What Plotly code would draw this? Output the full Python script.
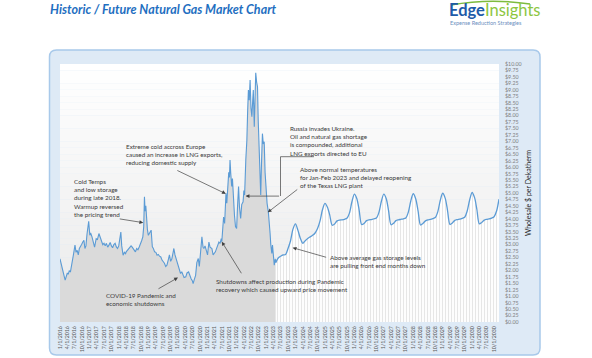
import plotly.graph_objects as go

# ---------------- data ----------------
hist_dates = [
    "2016-01-01","2016-01-12","2016-01-25","2016-02-08","2016-02-20","2016-03-05","2016-03-18","2016-04-01","2016-04-12","2016-04-25",
    "2016-05-10","2016-05-22","2016-06-05","2016-06-18","2016-07-05","2016-07-18","2016-08-01","2016-08-15","2016-08-28","2016-09-10",
    "2016-09-25","2016-10-10","2016-10-24","2016-11-05","2016-11-18","2016-12-01","2016-12-12","2016-12-22","2017-01-05","2017-01-15",
    "2017-02-01","2017-02-20","2017-03-05","2017-03-25","2017-04-10","2017-04-28","2017-05-15","2017-05-30","2017-06-15","2017-06-30",
    "2017-07-15","2017-07-30","2017-08-15","2017-08-30","2017-09-15","2017-09-30","2017-10-15","2017-10-30","2017-11-15","2017-11-30",
    "2017-12-15","2017-12-30","2018-01-12","2018-01-25","2018-02-05","2018-02-22","2018-03-10","2018-03-25","2018-04-01","2018-04-18",
    "2018-05-01","2018-05-15","2018-06-01","2018-06-15","2018-06-28","2018-07-12","2018-07-25","2018-08-10","2018-08-25","2018-09-10",
    "2018-09-25","2018-10-10","2018-10-25","2018-11-05","2018-11-14","2018-11-22","2018-12-01","2018-12-10","2018-12-20","2019-01-01",
    "2019-01-15","2019-02-05","2019-02-20","2019-03-05","2019-03-20","2019-04-05","2019-04-20","2019-05-05","2019-05-20","2019-06-05",
    "2019-06-20","2019-07-05","2019-07-20","2019-08-05","2019-08-20","2019-09-05","2019-09-20","2019-10-05","2019-10-20","2019-11-05",
    "2019-11-14","2019-11-28","2019-12-10","2019-12-22","2020-01-05","2020-01-20","2020-02-05","2020-02-20","2020-03-05","2020-03-20",
    "2020-04-10","2020-04-25","2020-05-15","2020-05-30","2020-06-15","2020-06-30","2020-07-10","2020-07-25","2020-08-10","2020-08-25",
    "2020-09-12","2020-09-25","2020-10-10","2020-10-27","2020-11-10","2020-11-20","2020-12-05","2020-12-20","2021-01-05","2021-01-22",
    "2021-02-05","2021-02-28","2021-03-15","2021-04-12","2021-04-28","2021-05-15","2021-05-26","2021-06-10","2021-06-24","2021-07-01",
    "2021-07-12","2021-07-23","2021-08-05","2021-08-22","2021-09-01","2021-09-15","2021-09-25","2021-10-04","2021-10-11","2021-10-20",
    "2021-11-01","2021-11-10","2021-11-22","2021-12-05","2021-12-18","2022-01-01","2022-01-12","2022-01-25","2022-02-05","2022-02-20",
    "2022-03-05","2022-03-22","2022-04-01","2022-04-10","2022-04-25","2022-05-08","2022-05-18","2022-05-27","2022-06-07","2022-06-17",
    "2022-06-28","2022-07-09","2022-07-18","2022-07-27","2022-08-08","2022-08-17","2022-08-26","2022-09-06","2022-09-17","2022-09-26",
    "2022-10-05","2022-10-15","2022-10-27","2022-11-06","2022-11-17","2022-11-28","2022-12-09","2022-12-20","2023-01-01","2023-01-14",
    "2023-01-29","2023-02-10","2023-02-20","2023-03-01","2023-03-14","2023-03-22","2023-04-05","2023-04-13","2023-04-25","2023-05-01",
]
hist_values = [
    2.45, 2.28, 2.15, 1.95, 1.80, 1.62, 1.75, 1.90, 1.85, 1.98,
    1.95, 2.13, 2.40, 2.65, 2.98, 2.70, 2.78, 2.60, 2.85, 2.91,
    3.00, 3.10, 3.17, 2.85, 2.95, 3.40, 3.60, 3.90, 3.36, 3.45,
    3.30, 2.98, 2.90, 3.23, 3.20, 3.43, 3.25, 3.10, 3.00, 3.05,
    2.95, 3.05, 2.90, 2.98, 3.08, 2.95, 2.88, 3.00, 3.05, 2.91,
    2.85, 2.95, 3.20, 3.49, 2.95, 2.59, 2.70, 2.65, 2.72, 2.78,
    2.82, 2.91, 2.95, 2.90, 2.85, 2.78, 2.72, 2.85, 2.80, 2.91,
    3.00, 3.15, 3.30, 3.70, 4.85, 4.30, 4.50, 3.88, 3.60, 3.36,
    3.45, 3.56, 2.91, 2.85, 2.72, 2.70, 2.59, 2.62, 2.55, 2.52,
    2.40, 2.33, 2.28, 2.15, 2.20, 2.40, 2.60, 2.35, 2.45, 2.70,
    2.85, 2.60, 2.46, 2.30, 2.20, 2.05, 1.88, 1.95, 1.80, 1.72,
    1.75, 1.90, 1.94, 1.78, 1.68, 1.60, 1.49, 1.65, 1.81, 2.30,
    2.46, 2.15, 2.75, 3.30, 2.90, 2.85, 2.95, 2.78, 2.60, 3.10,
    2.90, 2.85, 2.60, 2.72, 2.85, 3.00, 3.10, 3.05, 3.23, 3.11,
    3.55, 4.07, 3.82, 4.99, 4.60, 5.30, 5.80, 5.60, 6.28, 5.76,
    5.25, 5.56, 4.72, 4.14, 3.70, 3.62, 4.47, 5.25, 4.47, 4.01,
    4.55, 4.66, 5.10, 4.92, 6.30, 7.05, 8.20, 8.99, 8.60, 9.38,
    8.30, 7.96, 8.50, 8.99, 7.57, 8.80, 9.66, 9.30, 9.12, 7.80,
    6.80, 6.00, 4.92, 6.20, 7.30, 6.90, 6.99, 5.80, 5.00, 4.60,
    4.28, 3.90, 3.44, 3.00, 2.66, 2.98, 2.40, 2.20, 2.45, 2.30,
]

fc_dates = [f"{y}-{m:02d}-01" for y in range(2023, 2031) for m in range(1, 13)][4:]
fc_values = [
    2.30, 2.48, 2.55, 2.60, 2.62, 2.85, 3.15, 3.60,          # May-Dec 2023
    3.80, 3.55, 3.25, 3.05, 3.15, 3.24, 3.30, 3.36, 3.45, 3.62, 3.92, 4.35,   # 2024
    4.60, 4.45, 4.15, 3.75, 3.80, 3.92, 3.95, 3.96, 3.98, 4.02, 4.22, 4.65,   # 2025
    4.96, 4.78, 4.35, 3.78, 3.82, 3.93, 3.96, 3.97, 4.00, 4.03, 4.24, 4.66,   # 2026
    4.96, 4.78, 4.33, 3.77, 3.82, 3.93, 3.96, 3.98, 4.00, 4.03, 4.25, 4.67,   # 2027
    4.97, 4.78, 4.32, 3.76, 3.82, 3.92, 3.96, 3.98, 4.01, 4.05, 4.27, 4.70,   # 2028
    4.99, 4.80, 4.35, 3.78, 3.84, 3.94, 3.97, 3.99, 4.02, 4.06, 4.30, 4.72,   # 2029
    5.02, 4.82, 4.37, 3.80, 3.86, 3.95, 3.98, 4.00, 4.03, 4.08, 4.30, 4.76,   # 2030
]

tick_years = list(range(2016, 2031))
tick_months = [1, 4, 7, 10]
x_tickvals = [f"{y}-{m:02d}-01" for y in tick_years for m in tick_months]
x_ticktext = [f"{m}/1/{y}" for y in tick_years for m in tick_months]
y_tickvals = [i * 0.25 for i in range(41)]
y_ticktext = [f"${v:.2f}" for v in y_tickvals]

notes = [
    # text, left px, top px
    ("Cold Temps<br>and low storage<br>during late 2018.<br>Warmup reversed<br>the pricing trend", 73, 177),
    ("Extreme cold accross Europe<br>caused an increase in LNG exports,<br>reducing domestic supply", 124.5, 141.5),
    ("Russia invades Ukraine.<br>Oil and natural gas shortage<br>is compounded, additional<br>LNG exports directed to EU", 289.3, 123.8),
    ("Above normal temperatures<br>for Jan-Feb 2023 and delayed reopening<br>of the Texas LNG plant", 298.8, 164.6),
    ("Above average gas storage levels<br>are pulling front end months down", 329.4, 253.3),
    ("Shutdowns affect production during Pandemic<br>recovery which caused upward price movement", 215, 277.3),
    ("COVID-19 Pandemic and<br>economic shutdowns", 105, 290.6),
]
# arrow tip (date, value) and tail offset in px
arrows = [
    ("2018-10-30", 3.85, -25, -4),
    ("2021-08-20", 4.97, -50, -24),
    ("2022-04-22", 4.88, 35, 0),
    ("2023-01-22", 4.25, 31, -24),
    ("2023-11-27", 2.88, 35, 10),
    ("2021-07-01", 3.11, 20.5, 33),
    ("2020-01-04", 1.72, -21, 12),
]

# ---------------- layout helpers ----------------
W, H = 592, 358
L, R, T, B = 60, 93, 64, 36
PW, PH = W - L - R, H - T - B


def px(x):
    return (x - L) / PW


def py(y):
    return (H - B - y) / PH


def rrect(x0, y0, x1, y1, r):
    return (f"M {px(x0+r)},{py(y0)} L {px(x1-r)},{py(y0)} Q {px(x1)},{py(y0)} {px(x1)},{py(y0+r)} "
            f"L {px(x1)},{py(y1-r)} Q {px(x1)},{py(y1)} {px(x1-r)},{py(y1)} "
            f"L {px(x0+r)},{py(y1)} Q {px(x0)},{py(y1)} {px(x0)},{py(y1-r)} "
            f"L {px(x0)},{py(y0+r)} Q {px(x0)},{py(y0)} {px(x0+r)},{py(y0)} Z")


fig = go.Figure()

fig.add_trace(go.Scatter(
    x=hist_dates, y=hist_values, mode="lines",
    line=dict(color="#5b9bd5", width=1.1),
    fill="tozeroy", fillcolor="#dadada", hoverinfo="skip", showlegend=False,
))
fig.add_trace(go.Scatter(
    x=fc_dates, y=fc_values, mode="lines",
    line=dict(color="#5b9bd5", width=1.3, shape="spline", smoothing=0.8),
    fill="tozeroy",
    fillpattern=dict(shape="|", size=3, solidity=0.3, fgcolor="#cacaca", bgcolor="rgba(255,255,255,0.92)"),
    hoverinfo="skip", showlegend=False,
))

shapes = []
# panel
shapes.append(dict(type="path", xref="paper", yref="paper", path=rrect(49.5, 50, 540, 355, 7),
                   fillcolor="#deeaf6", line=dict(color="#a8c9ea", width=1.5), layer="below"))
# plot-area gradient
N = 40
top, bot = 64, 322
for i in range(N):
    f = i / (N - 1)
    c = int(round(255 - f * 22))
    y0 = top + (bot - top) * i / N
    y1 = top + (bot - top) * (i + 1) / N
    shapes.append(dict(type="rect", xref="paper", yref="paper", x0=0, x1=1, y0=py(y1), y1=py(y0),
                       fillcolor=f"rgb({c},{c},{c})", line=dict(width=0), layer="below"))
# elbow connector for Russia note
shapes.append(dict(type="line", xref="paper", yref="paper", x0=px(314), y0=py(156.7), x1=px(280.5), y1=py(156.7),
                   line=dict(color="#404040", width=0.7)))
shapes.append(dict(type="line", xref="paper", yref="paper", x0=px(280.5), y0=py(156.7), x1=px(280.5), y1=py(196),
                   line=dict(color="#404040", width=0.7)))
# logo swoosh
shapes.append(dict(type="path", xref="paper", yref="paper",
                   path=f"M {px(451)},{py(5)} Q {px(490)},{py(-2)} {px(530)},{py(4)}",
                   line=dict(color="#7dbb3e", width=1.4)))

annotations = []
for text, lx, ty in notes:
    annotations.append(dict(text=text, xref="paper", yref="paper", x=px(lx), y=py(ty),
                            xanchor="left", yanchor="top", align="left", showarrow=False, borderpad=0,
                            font=dict(family="Lato", size=6.3, color="#3a3a3a")))
for d, v, ax, ay in arrows:
    annotations.append(dict(text="", x=d, y=v, xref="x", yref="y", ax=ax, ay=ay, axref="pixel", ayref="pixel",
                            showarrow=True, arrowhead=2, arrowsize=1.1, arrowwidth=0.7, arrowcolor="#404040",
                            standoff=0, startstandoff=0))
# title
annotations.append(dict(text="<b><i>Historic / Future Natural Gas Market Chart</i></b>", xref="paper", yref="paper",
                        x=px(48), y=py(9), xanchor="left", yanchor="middle", showarrow=False,
                        font=dict(family="Lato", size=12.5, color="#1f6fc1")))
# logo
annotations.append(dict(text="<b><span style='color:#1e5ba8'>Edge</span></b><span style='color:#8cc63f'>Insights</span>",
                        xref="paper", yref="paper", x=px(447), y=py(10), xanchor="left", yanchor="middle",
                        showarrow=False, font=dict(family="Lato", size=16.5)))
annotations.append(dict(text="Expense Reduction Strategies", xref="paper", yref="paper", x=px(448), y=py(23),
                        xanchor="left", yanchor="middle", showarrow=False,
                        font=dict(family="Lato", size=5.5, color="#6d8fc0")))
# y-axis title
annotations.append(dict(text="Wholesale $ per Dekatherm", xref="paper", yref="paper", x=px(528), y=py(193),
                        xanchor="center", yanchor="middle", textangle=-90, showarrow=False,
                        font=dict(family="Lato", size=7, color="#262626")))

fig.update_layout(
    width=W, height=H,
    margin=dict(l=L, r=R, t=T, b=B, autoexpand=False),
    paper_bgcolor="white", plot_bgcolor="rgba(0,0,0,0)",
    shapes=shapes, annotations=annotations, showlegend=False,
    font=dict(family="Lato"),
)
fig.update_xaxes(type="date", range=["2016-01-01", "2030-12-01"], tickvals=x_tickvals, ticktext=x_ticktext,
                 tickangle=-90, showgrid=False, zeroline=False, showline=False, ticks="",
                 tickfont=dict(family="Lato", size=5.3, color="#595959"), automargin=False,
                 ticklabelstandoff=2, fixedrange=True)
fig.update_yaxes(range=[0, 10], side="right", tickvals=y_tickvals, ticktext=y_ticktext,
                 showgrid=False, zeroline=False, showline=False, ticks="",
                 tickfont=dict(family="Lato", size=5.3, color="#7f7f7f"), automargin=False,
                 ticklabelstandoff=5, fixedrange=True)

fig.write_html("out.html", config={"displayModeBar": False},
               post_script="document.body.style.margin='0';document.body.style.overflow='hidden';")
